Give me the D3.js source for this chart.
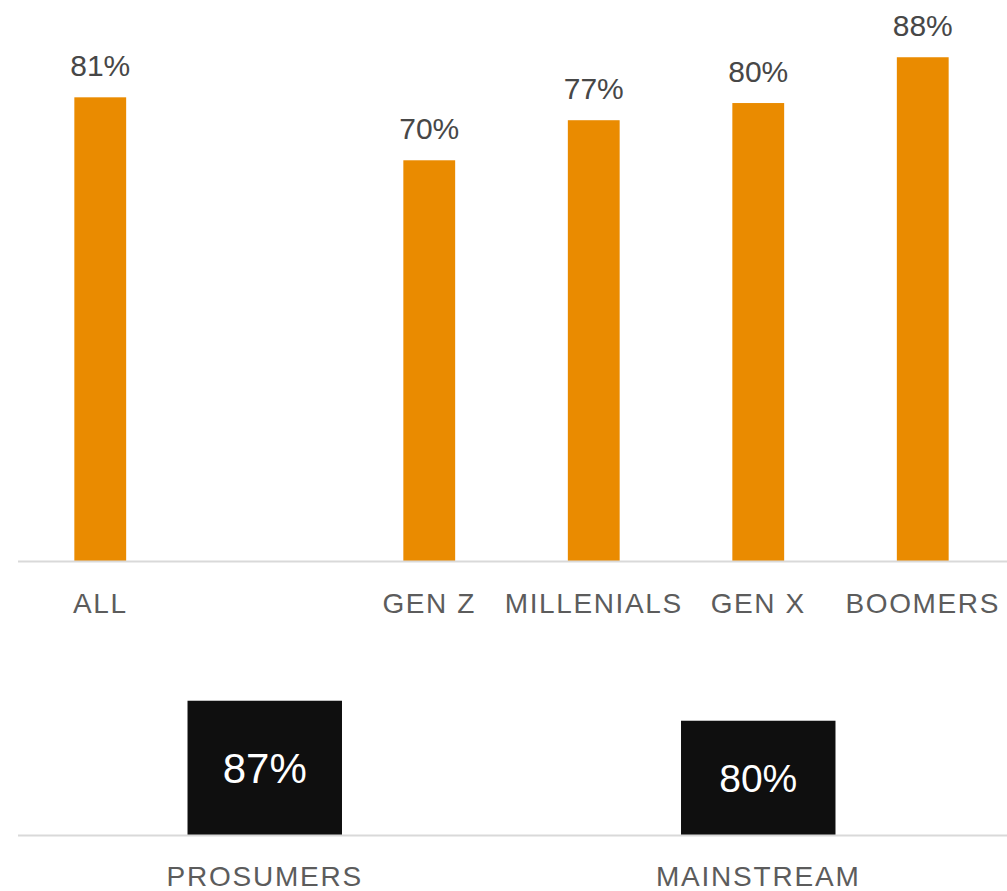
<!DOCTYPE html>
<html>
<head>
<meta charset="utf-8">
<script src="https://cdn.jsdelivr.net/npm/d3@7"></script>
<style>
  html, body { margin: 0; padding: 0; background: #fff; }
  svg { display: block; }
  text { font-family: "Liberation Sans", Arial, sans-serif; }
</style>
</head>
<body>
<svg id="chart" width="1007" height="891"></svg>
<script>
// Generational breakdown (a blank slot separates ALL from the generations)
const genCategories = ["ALL", "", "GEN Z", "MILLENIALS", "GEN X", "BOOMERS"];
const genValues = [81, null, 70, 77, 80, 88];

// Audience segments
const segCategories = ["PROSUMERS", "MAINSTREAM"];
const segValues = [87, 80];

const svg = d3.select("#chart");
const W = 1007;
const left = 18, right = 1005;

// ---- Top chart: generations ----
const topBase = 561;
const x1 = d3.scaleBand().domain(d3.range(genCategories.length))
  .range([left, right]).paddingInner(0.685).paddingOuter(0.3425);
const y1 = d3.scaleLinear().domain([0, 98]).range([topBase, 0]);

const g1 = svg.append("g");
const gen = genCategories.map((c, i) => ({ c, v: genValues[i], i }));

g1.selectAll("rect").data(gen.filter(d => d.v != null)).join("rect")
  .attr("x", d => x1(d.i)).attr("width", x1.bandwidth())
  .attr("y", d => y1(d.v)).attr("height", d => y1(0) - y1(d.v))
  .attr("fill", "#EA8B00");

g1.selectAll("text.val").data(gen.filter(d => d.v != null)).join("text")
  .attr("class", "val")
  .attr("x", d => x1(d.i) + x1.bandwidth() / 2)
  .attr("y", d => y1(d.v) - 21)
  .attr("text-anchor", "middle")
  .attr("font-size", 30).attr("fill", "#474747")
  .text(d => d.v + "%");

g1.append("line").attr("x1", left).attr("x2", W)
  .attr("y1", topBase + 0.5).attr("y2", topBase + 0.5)
  .attr("stroke", "#d9d9d9").attr("stroke-width", 2);

g1.selectAll("text.cat").data(gen).join("text")
  .attr("class", "cat")
  .attr("x", d => x1(d.i) + x1.bandwidth() / 2)
  .attr("y", 613)
  .attr("text-anchor", "middle")
  .attr("font-size", 28).attr("letter-spacing", 1.6).attr("fill", "#5c5c5c")
  .text(d => d.c);

// ---- Bottom chart: segments ----
const botBase = 835;
const x2 = d3.scaleBand().domain(segCategories)
  .range([left, right]).paddingInner(0.687).paddingOuter(0.3435);
const y2 = d3.scaleLinear().domain([40, 100]).range([botBase, 663.6]);
const labelSizes = [42, 39];

const g2 = svg.append("g");
const seg = segCategories.map((c, i) => ({ c, v: segValues[i], i }));

g2.selectAll("rect").data(seg).join("rect")
  .attr("x", d => x2(d.c)).attr("width", x2.bandwidth())
  .attr("y", d => y2(d.v)).attr("height", d => y2(40) - y2(d.v))
  .attr("fill", "#0f0f0f");

g2.selectAll("text.val").data(seg).join("text")
  .attr("class", "val")
  .attr("x", d => x2(d.c) + x2.bandwidth() / 2)
  .attr("y", d => (y2(d.v) + botBase) / 2)
  .attr("dy", "0.35em")
  .attr("text-anchor", "middle")
  .attr("font-size", d => labelSizes[d.i]).attr("fill", "#ffffff")
  .text(d => d.v + "%");

g2.append("line").attr("x1", left).attr("x2", W)
  .attr("y1", botBase + 0.5).attr("y2", botBase + 0.5)
  .attr("stroke", "#d9d9d9").attr("stroke-width", 2);

g2.selectAll("text.cat").data(seg).join("text")
  .attr("class", "cat")
  .attr("x", d => x2(d.c) + x2.bandwidth() / 2)
  .attr("y", 886)
  .attr("text-anchor", "middle")
  .attr("font-size", 28).attr("letter-spacing", 1.8).attr("fill", "#5c5c5c")
  .text(d => d.c);
</script>
</body>
</html>
